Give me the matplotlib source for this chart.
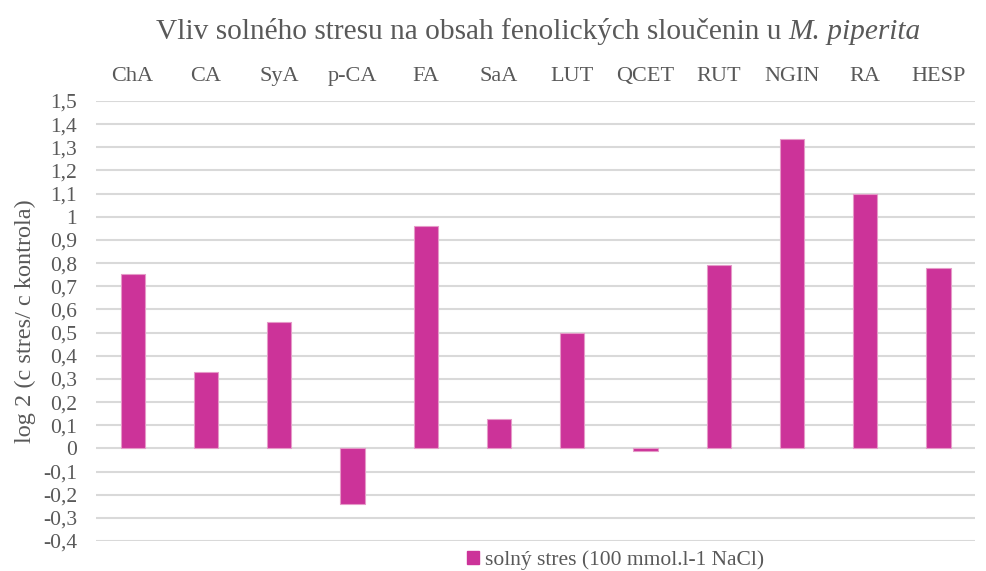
import matplotlib
matplotlib.use("Agg")
import matplotlib.pyplot as plt
import numpy as np
from matplotlib.patches import Patch

categories = ["ChA", "CA", "SyA", "p-CA", "FA", "SaA", "LUT", "QCET", "RUT", "NGIN", "RA", "HESP"]
values = [0.752, 0.33, 0.547, -0.24, 0.962, 0.125, 0.497, -0.01, 0.794, 1.337, 1.10, 0.781]
yticks = np.round(np.arange(-0.4, 1.51, 0.1), 1)

plt.rcParams['font.family'] = ['Liberation Serif', 'DejaVu Serif']
grey = '#595959'
bar_color = '#CC3399'

fig = plt.figure(figsize=(9.87, 5.71), dpi=100)
ax = fig.add_axes([0.0973, 0.0525, 0.8907, 0.7706])

x = np.arange(len(categories))
ax.bar(x, values, width=0.33, color=bar_color, edgecolor='#E59AC8', linewidth=0.8, zorder=3)

ax.set_xlim(-0.5, len(categories) - 0.5)
ax.set_ylim(-0.4, 1.5)
ax.set_yticks(yticks)
ylabels = ['0' if v == 0 else ('%g' % v).replace('.', ',') for v in yticks]
ax.set_yticklabels(ylabels, fontsize=15.5, color=grey)
ax.yaxis.grid(True, color='#D9D9D9', linewidth=1.5, zorder=0)
ax.tick_params(axis='y', length=0, pad=13.5)

ax.xaxis.tick_top()
ax.set_xticks(x)
ax.set_xticklabels(categories, fontsize=16, color=grey)
ax.tick_params(axis='x', length=0, pad=11)

for s in ax.spines.values():
    s.set_visible(False)

ax.set_ylabel('log 2 (c stres/ c kontrola)', fontsize=17.5, color=grey, labelpad=5)

# title in two parts, the species name in italics, centred as a whole
t1 = fig.text(0, 0.944, 'Vliv solného stresu na obsah fenolických sloučenin u ',
              fontsize=21.2, color=grey, ha='left', va='center')
t2 = fig.text(0, 0.944, 'M. piperita', fontsize=21.2, color=grey, style='italic',
              ha='left', va='center')
r = fig.canvas.get_renderer()
w1 = t1.get_window_extent(r).width
w2 = t2.get_window_extent(r).width
x0 = (538.5 - (w1 + w2) / 2) / fig.bbox.width
t1.set_x(x0)
t2.set_x(x0 + w1 / fig.bbox.width)

handle = Patch(facecolor=bar_color, edgecolor=bar_color)
fig.legend([handle], ['solný stres (100 mmol.l-1 NaCl)'], loc='center',
           bbox_to_anchor=(0.624, 0.019), frameon=False, fontsize=15.5,
           labelcolor=grey, handlelength=0.55, handleheight=0.55, handletextpad=0.3)

fig.savefig('out.png', dpi=100)
